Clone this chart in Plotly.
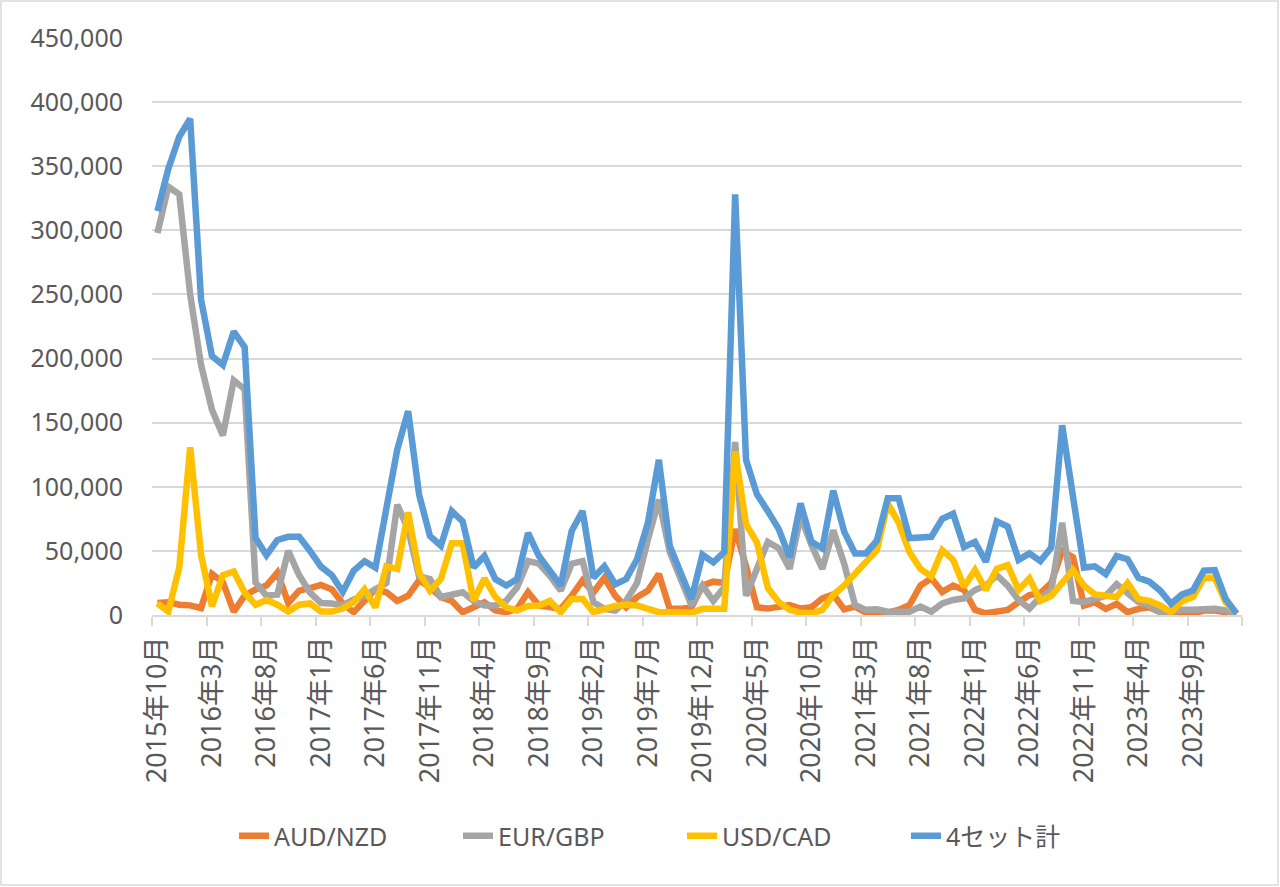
import plotly.graph_objects as go

# Monthly categories 2015年10月 .. 2024年1月 (100 months)
months = []
y, m = 2015, 10
for _ in range(100):
    months.append(f"{y}年{m}月")
    m += 1
    if m > 12:
        m = 1
        y += 1

aud_nzd = [9400, 10000, 8000, 7500, 5400, 32000, 25600, 2700, 15000, 20000,
           23000, 33000, 9400, 19000, 21000, 23500, 20000, 9000, 2200, 11000,
           20000, 17700, 11000, 15000, 27000, 21600, 14000, 11000, 2200, 6000,
           10000, 3500, 2200, 4800, 17700, 7400, 6000, 4800, 15000, 27000,
           17700, 29000, 15000, 6000, 14000, 19000, 32000, 4800, 4800, 6000,
           23000, 26000, 25000, 67000, 38000, 6000, 5000, 6500, 7800, 5000,
           6000, 13000, 16000, 4400, 6500, 1800, 1800, 1800, 4000, 7800,
           23000, 28600, 18000, 23000, 19500, 4000, 1300, 2600, 4000, 10000,
           15600, 17000, 25000, 50000, 45000, 7400, 10000, 4800, 8700, 2200,
           4800, 6000, 2200, 1000, 1000, 1000, 3500, 3500, 2200, 1000]

eur_gbp = [298000, 334000, 328000, 250000, 195000, 160000, 140000, 183000, 176000, 25600,
           15000, 16000, 50000, 31000, 17500, 9400, 9000, 7500, 12000, 15000,
           20000, 25000, 86000, 67000, 30000, 28000, 14000, 16000, 17700, 11000,
           7400, 7400, 11000, 21600, 42000, 40000, 30600, 19000, 40000, 42000,
           10000, 4800, 3500, 11000, 25000, 59000, 90000, 49000, 28000, 7400,
           23000, 11000, 21600, 135000, 15000, 36000, 57000, 52000, 36000, 77000,
           54500, 36000, 66000, 40000, 7800, 4000, 4400, 2600, 2000, 2600,
           6500, 2600, 9000, 11700, 13000, 19500, 23000, 31000, 23000, 11700,
           5000, 14000, 19000, 72000, 11000, 10000, 12500, 15000, 24000, 17700,
           10000, 7400, 2200, 2200, 4000, 4000, 4800, 4800, 3500, 1000]

usd_cad = [9000, 2700, 37000, 130700, 47000, 6700, 31000, 34000, 17500, 8000,
           11600, 8000, 2700, 8000, 9000, 2700, 2700, 5000, 10000, 20000,
           6000, 38000, 36000, 80000, 33000, 19000, 28000, 56000, 56000, 11000,
           28500, 14000, 6000, 3500, 7000, 7400, 11000, 2200, 12500, 12500,
           2200, 4800, 7000, 8000, 7400, 4800, 2200, 2200, 2200, 1700,
           4800, 5000, 4800, 127500, 70700, 56500, 21000, 10000, 4000, 1800,
           1300, 4000, 15600, 23000, 32000, 40000, 50600, 87000, 72000, 49000,
           36000, 30000, 50600, 43000, 22000, 35000, 19500, 36000, 39000, 19500,
           28600, 11000, 15000, 25000, 35000, 23000, 16000, 15000, 14000, 25000,
           12500, 11000, 7400, 2200, 11000, 14000, 29000, 29000, 10000, 1000]

total4 = [315000, 348000, 373000, 387000, 246000, 202000, 195000, 221000, 209000, 60000,
          46600, 58500, 61000, 61000, 50000, 37700, 31000, 18000, 34500, 42000,
          37000, 80000, 129000, 159000, 94000, 61600, 54000, 81000, 73000, 37000,
          46000, 28000, 23000, 28000, 64000, 46000, 34500, 23000, 65500, 81000,
          29000, 38000, 24000, 28000, 43500, 72000, 121000, 54000, 33000, 12500,
          47000, 41000, 49000, 328000, 121000, 94000, 81000, 67000, 45000, 87000,
          57000, 52000, 97000, 65000, 48000, 48000, 58000, 91000, 91000, 60000,
          60500, 61000, 75000, 79000, 53000, 57000, 41500, 73000, 69000, 43000,
          48000, 42000, 52600, 148000, 92000, 37000, 38000, 32000, 46000, 43500,
          29000, 26000, 19000, 8700, 16000, 19000, 34500, 35000, 12500, 1000]

series = [
    ("AUD/NZD", aud_nzd, "#ED7D31"),
    ("EUR/GBP", eur_gbp, "#A5A5A5"),
    ("USD/CAD", usd_cad, "#FFC000"),
    ("4セット計", total4, "#5B9BD5"),
]

FONT = "Noto Sans, Noto Sans CJK JP, sans-serif"
TXT = "#595959"
GRID = "#D9D9D9"

fig = go.Figure()
for name, vals, col in series:
    fig.add_trace(go.Scatter(x=months, y=vals, name=name, mode="lines",
                             line=dict(color=col, width=6.5)))

W, H = 1280, 887
L, R, T, B = 152, 38, 38, 272
pw, ph = W - L - R, H - T - B

fig.update_layout(
    width=W, height=H,
    margin=dict(l=L, r=R, t=T, b=B),
    paper_bgcolor="white", plot_bgcolor="white",
    font=dict(family=FONT, color=TXT, size=24),
    showlegend=True,
    legend=dict(orientation="h", x=(682 - L) / pw, xanchor="center",
                y=(T + ph - 836) / ph, yanchor="middle",
                font=dict(size=25, color=TXT, family=FONT),
                itemwidth=30, entrywidth=179, entrywidthmode="pixels",
                traceorder="normal"),
    xaxis=dict(type="category", range=[-0.5, 99.5], tickson="boundaries",
               tick0=0, dtick=5, tickangle=-90,
               ticks="outside", ticklen=9, tickcolor=GRID, tickwidth=1.5,
               showline=True, linecolor=GRID, linewidth=1.5,
               showgrid=False, zeroline=False,
               tickfont=dict(size=27, color=TXT, family=FONT),
               ticklabelstandoff=9),
    yaxis=dict(range=[0, 450000], dtick=50000, tickformat=",",
               showgrid=True, gridcolor=GRID, gridwidth=1.5,
               zeroline=False, showline=False, ticks="",
               tickfont=dict(size=25, color=TXT, family=FONT),
               ticklabelstandoff=28),
    shapes=[dict(type="rect", xref="paper", yref="paper",
                 x0=(1 - L) / pw, x1=(W - 2 - L) / pw,
                 y0=(T + ph - (H - 2)) / ph, y1=(T + ph - 1) / ph,
                 line=dict(color=GRID, width=1.5), fillcolor="rgba(0,0,0,0)",
                 layer="below")],
)

fig.write_html("out.html", config={"displayModeBar": False},
               post_script="document.body.style.margin='0';document.body.style.overflow='hidden';")
